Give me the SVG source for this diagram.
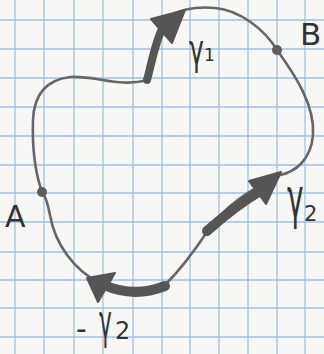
<svg xmlns="http://www.w3.org/2000/svg" width="324" height="354" viewBox="0 0 324 354">
<style>
.grid line{stroke:#9fc0e4;stroke-width:1.3}
.curve{fill:none;stroke:#666;stroke-width:2.6;stroke-linecap:round}
.thick{fill:none;stroke:#565656;stroke-linecap:round}
.head{fill:#555;stroke:#555;stroke-width:2;stroke-linejoin:round}
.lbl{font-family:"DejaVu Sans","Liberation Sans",sans-serif;fill:#333}
.dot{fill:#5d5d5d}
</style>
<rect width="324" height="354" fill="#f7f8f6"/>
<g class="grid">
<line x1="15" y1="0" x2="15" y2="354"/><line x1="44" y1="0" x2="44" y2="354"/><line x1="74" y1="0" x2="74" y2="354"/><line x1="103" y1="0" x2="103" y2="354"/><line x1="133" y1="0" x2="133" y2="354"/><line x1="162" y1="0" x2="162" y2="354"/><line x1="190" y1="0" x2="190" y2="354"/><line x1="219" y1="0" x2="219" y2="354"/><line x1="248" y1="0" x2="248" y2="354"/><line x1="277" y1="0" x2="277" y2="354"/><line x1="305" y1="0" x2="305" y2="354"/>
<line x1="0" y1="20" x2="324" y2="20"/><line x1="0" y1="49" x2="324" y2="49"/><line x1="0" y1="78" x2="324" y2="78"/><line x1="0" y1="107" x2="324" y2="107"/><line x1="0" y1="136" x2="324" y2="136"/><line x1="0" y1="165" x2="324" y2="165"/><line x1="0" y1="193" x2="324" y2="193"/><line x1="0" y1="222" x2="324" y2="222"/><line x1="0" y1="252" x2="324" y2="252"/><line x1="0" y1="280" x2="324" y2="280"/><line x1="0" y1="308" x2="324" y2="308"/><line x1="0" y1="337" x2="324" y2="337"/>
</g>
<g id="connectors">
<path class="curve" d="M42 192 C36 175 32 150 33 120 C34 95 45 80 70 77 C95 75 120 88 147 80 C152 60 155 35 165 20 C175 10 195 6 215 8 C240 10 265 30 277 50 C295 75 315 105 313 135 C311 160 295 172 280 175 C250 190 225 205 207 232 C195 250 180 270 165 285 C140 295 120 292 98 282 C75 270 55 245 50 215 C47 200 45 195 42 192 Z"/>
<g id="gamma1">
<path class="thick" stroke-width="8" d="M147 80 C152 62 155 42 163 27"/>
<polygon class="head" points="151,19 185,10 172,43"/>
</g>
<g id="gamma2">
<path class="thick" stroke-width="10" d="M207 231 C225 215 243 201 262 190"/>
<polygon class="head" points="249,181 281,172 266,204"/>
</g>
<g id="minus-gamma2">
<path class="thick" stroke-width="10" d="M165 286 C142 295 122 293 104 285"/>
<polygon class="head" points="87,278 115,273 98,302"/>
</g>
</g>
<g id="A">
<circle class="dot" cx="42" cy="192" r="5"/>
<text class="lbl" x="5" y="227" font-size="30">A</text>
</g>
<g id="B">
<circle class="dot" cx="277" cy="50" r="5"/>
<text class="lbl" x="300" y="45" font-size="31">B</text>
</g>
<g id="labels">
<text class="lbl" transform="translate(189,64) scale(0.6,1)" font-size="42">γ</text>
<text class="lbl" x="204" y="61" font-size="17">1</text>
<text class="lbl" transform="translate(287,217) scale(0.5,1)" font-size="56">γ</text>
<text class="lbl" x="304" y="221" font-size="21">2</text>
<text class="lbl" x="76" y="339" font-size="30">-</text>
<text class="lbl" transform="translate(99,338) scale(0.45,1)" font-size="48">γ</text>
<text class="lbl" x="115" y="339" font-size="24">2</text>
</g>
</svg>
